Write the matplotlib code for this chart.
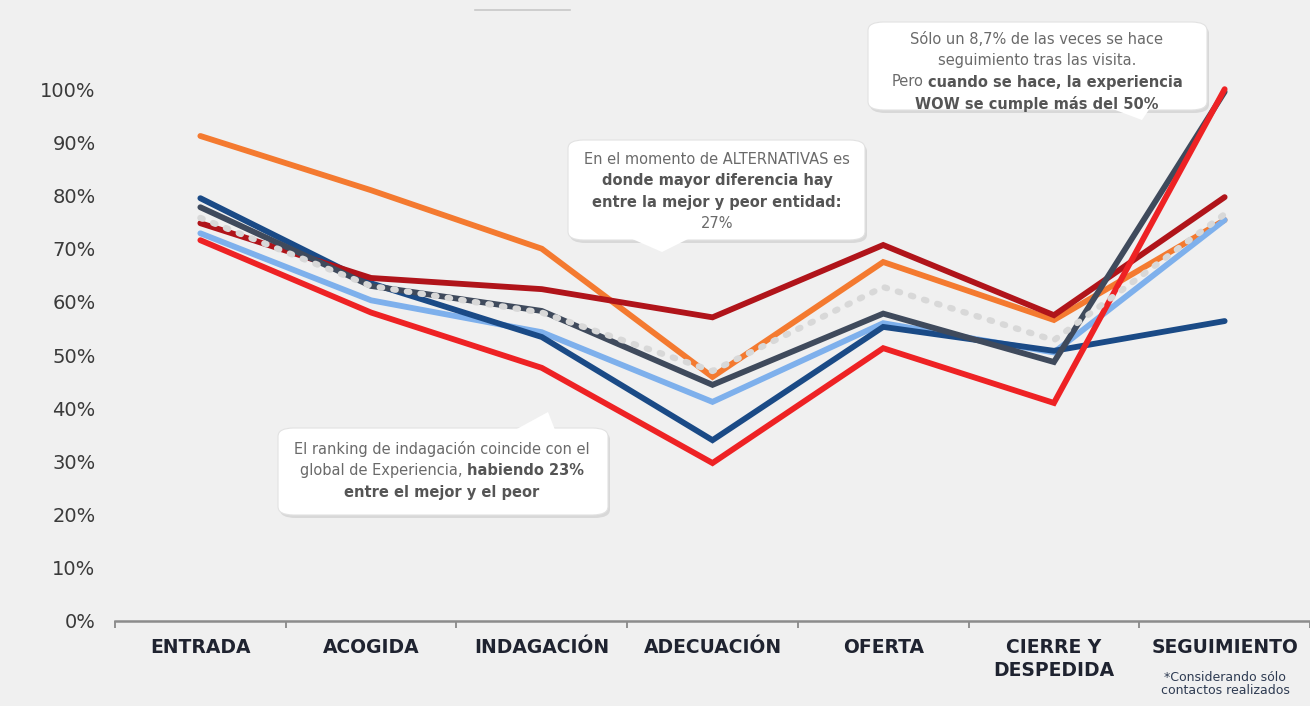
import numpy as np
import matplotlib
matplotlib.use("Agg")
from matplotlib import pyplot as plt
from matplotlib.patches import FancyBboxPatch, Polygon
from matplotlib.ticker import PercentFormatter

W, H = 1310, 706

categories = ["ENTRADA", "ACOGIDA", "INDAGACIÓN", "ADECUACIÓN", "OFERTA",
              "CIERRE Y\nDESPEDIDA", "SEGUIMIENTO"]

orange = [91.2, 81.0, 70.0, 45.9, 67.5, 56.6, 75.4]
light_blue = [72.9, 60.3, 54.3, 41.2, 56.0, 50.5, 75.4]
navy = [79.5, 63.5, 53.4, 34.0, 55.3, 50.8, 56.4]
dark_red = [74.8, 64.5, 62.4, 57.1, 70.7, 57.5, 79.7]
dark_grey = [77.8, 63.0, 58.3, 44.4, 57.8, 48.7, 99.5]
red = [71.6, 58.0, 47.6, 29.7, 51.3, 41.0, 100.0]
average = [75.8, 63.0, 58.0, 47.0, 62.8, 52.8, 76.5]

series = [
    (orange, "#F47A30"),
    (light_blue, "#7EB0EC"),
    (navy, "#1A4A86"),
    (dark_red, "#B0141A"),
    (dark_grey, "#3F4A5C"),
    (red, "#EE2224"),
]

BG = "#F0F0F0"

fig = plt.figure(figsize=(W / 100, H / 100), dpi=100, facecolor=BG)
ax = fig.add_axes([115 / W, (H - 621) / H, 1195 / W, 585 / H])
ax.set_facecolor(BG)

x = np.arange(len(categories))
for vals, col in series:
    ax.plot(x, vals, color=col, lw=4.2, solid_capstyle="round",
            solid_joinstyle="miter", clip_on=False, zorder=3)
ax.plot(x, average, color="#D8D8D8", lw=4.5, linestyle=(0, (0.4, 1.8)),
        dash_capstyle="round", clip_on=False, zorder=4)

ax.set_xlim(-0.5, 6.5)
ax.set_ylim(0, 110)
ax.set_yticks(np.arange(0, 101, 10))
ax.yaxis.set_major_formatter(PercentFormatter(decimals=0))
ax.tick_params(axis="y", length=0, pad=14, labelsize=14, labelcolor="#3A3A3A")

ax.set_xticks(np.arange(-0.5, 7.0, 1.0))
ax.set_xticklabels([])
ax.set_xticks(x, minor=True)
ax.set_xticklabels(categories, minor=True, fontsize=13.5, fontweight="bold",
                   color="#1F2330", linespacing=1.3, va="top")
ax.tick_params(axis="x", which="major", length=5, direction="out",
               color="#808080", width=1.2)
ax.tick_params(axis="x", which="minor", length=0, pad=12)

for s in ["top", "right", "left"]:
    ax.spines[s].set_visible(False)
ax.spines["bottom"].set_color("#8C8C8C")
ax.spines["bottom"].set_linewidth(1.8)


def px(xp, yp):
    return xp / W, 1 - yp / H


def callout(x0, y0, x1, y1, pointer):
    # shadow
    sh = FancyBboxPatch(px(x0 + 2, y1 + 3), (x1 - x0) / W, (y1 - y0) / H,
                        boxstyle="round,pad=0,rounding_size=0.012",
                        transform=fig.transFigure, facecolor="#C8C8C8",
                        edgecolor="none", alpha=0.6, zorder=9)
    fig.add_artist(sh)
    box = FancyBboxPatch(px(x0, y1), (x1 - x0) / W, (y1 - y0) / H,
                         boxstyle="round,pad=0,rounding_size=0.012",
                         transform=fig.transFigure, facecolor="white",
                         edgecolor="#E2E2E2", lw=0.8, zorder=10)
    fig.add_artist(box)
    poly = Polygon([px(*p) for p in pointer], closed=True,
                   transform=fig.transFigure, facecolor="white",
                   edgecolor="none", zorder=11)
    fig.add_artist(poly)


def mixed_lines(cx, top, lines, size=10.5, step=21.5):
    renderer = fig.canvas.get_renderer()
    probe = fig.text(0, 0, "a a", fontsize=size)
    w2 = probe.get_window_extent(renderer).width
    probe.set_text("aa")
    space = w2 - probe.get_window_extent(renderer).width
    probe.remove()
    for i, segs in enumerate(lines):
        texts = []
        widths = []
        for s, bold in segs:
            t = fig.text(0, 0, s.strip(), fontsize=size,
                         fontweight="bold" if bold else "normal",
                         color="#555555" if bold else "#6A6A6A",
                         ha="left", va="center", zorder=12)
            texts.append(t)
            widths.append(t.get_window_extent(renderer).width)
        total = sum(widths) + space * (len(segs) - 1)
        xp = cx - total / 2
        yp = top + i * step
        for t, w in zip(texts, widths):
            t.set_position(px(xp, yp))
            xp += w + space


callout(868, 22, 1207, 110, [(1110, 108), (1150, 108), (1142, 120)])
mixed_lines(1037, 39, [
    [("Sólo un 8,7% de las veces se hace", False)],
    [("seguimiento tras las visita.", False)],
    [("Pero", False), ("cuando se hace, la experiencia", True)],
    [("WOW se cumple más del 50%", True)],
])

callout(568, 140, 865, 240, [(630, 238), (690, 238), (662, 252)])
mixed_lines(717, 159, [
    [("En el momento de ALTERNATIVAS es", False)],
    [("donde mayor diferencia hay", True)],
    [("entre la mejor y peor entidad:", True)],
    [("27%", False)],
])

callout(278, 428, 608, 515, [(515, 430), (555, 430), (548, 412)])
mixed_lines(442, 449, [
    [("El ranking de indagación coincide con el", False)],
    [("global de Experiencia,", False), ("habiendo 23%", True)],
    [("entre el mejor y el peor", True)],
])

fig.text(*px(1225, 684), "*Considerando sólo\ncontactos realizados",
         fontsize=9, color="#2E3B52", ha="center", va="center",
         linespacing=1.0)

fig.add_artist(plt.Line2D([475 / W, 570 / W], [1 - 10 / H, 1 - 10 / H],
                          transform=fig.transFigure, color="#C8C8C8", lw=1.2))

fig.savefig("out.png", dpi=100, facecolor=BG)
